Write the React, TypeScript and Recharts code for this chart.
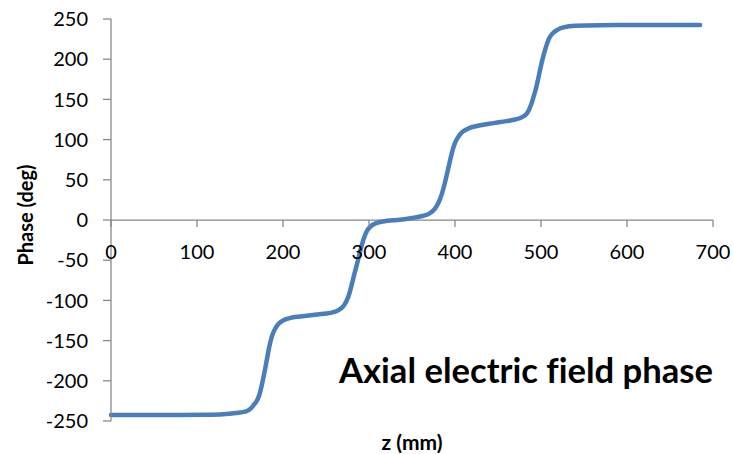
import React from 'react';
import { LineChart, Line, XAxis, YAxis, ReferenceLine } from 'recharts';

// Axial position along the structure (mm) and field phase (deg).
const Z_MM = [
  0, 40, 80, 110, 130, 145, 157, 162, 166, 169, 172, 175, 178, 181, 184, 187, 190, 194,
  200, 208, 220, 240, 255, 262, 267, 271, 274, 277, 280, 283, 286, 289, 292, 295, 298,
  302, 306, 313, 321, 336, 350, 362, 370, 375, 379, 383, 387, 390, 393, 396, 399, 403,
  408, 415, 428, 445, 460, 470, 478, 484, 488, 491, 494, 497, 500, 503, 506, 509, 513,
  519, 526, 540, 570, 620, 685,
];
const PHASE_DEG = [
  -242.5, -242.5, -242.5, -242.2, -241.5, -240, -238, -235, -230, -226, -219, -207, -192,
  -175, -158, -145, -137, -130, -125, -122, -120, -117.5, -115.5, -113.5, -110.5, -106,
  -100.5, -92, -80, -67, -55, -42, -30, -20, -13, -8, -5, -2.5, -1, 0.4, 2.5, 5, 8, 12, 18,
  27, 41, 54, 68, 82, 93, 102, 109, 113.5, 117.5, 120.5, 123, 125, 128, 133, 142, 152, 163,
  177, 192, 205, 216, 225, 231.5, 236.5, 239.5, 241.7, 242.3, 242.5, 242.5,
];

const X_TICKS = [0, 100, 200, 300, 400, 500, 600, 700];
const Y_TICKS = [-250, -200, -150, -100, -50, 0, 50, 100, 150, 200, 250];
const Y_MIN = -250;
const Y_MAX = 250;

const WIDTH = 734;
const HEIGHT = 454;
const MARGIN = { top: 19, right: 21, bottom: 0, left: 0 };
const X_AXIS_H = 33;
const Y_AXIS_W = 111;
const AXIS_COLOR = '#868686';
const LINE_COLOR = '#4a7ebb';
const FONT = 'Lato, "Open Sans", sans-serif';

const data = Z_MM.map((z, i) => ({ z, phase: PHASE_DEG[i] }));

// x axis crosses the y axis at phase = 0, so its ticks sit at that height
const plotH = HEIGHT - MARGIN.top - MARGIN.bottom - X_AXIS_H;
const zeroY = MARGIN.top + (plotH * (Y_MAX - 0)) / (Y_MAX - Y_MIN);

function CrossingTick(props: any) {
  const { x, payload } = props;
  return (
    <g>
      <line x1={x} x2={x} y1={zeroY} y2={zeroY + 7} stroke={AXIS_COLOR} strokeWidth={1.25} />
      <text
        x={x}
        y={zeroY + 31}
        textAnchor="middle"
        dominantBaseline="central"
        fontSize={20}
        fontFamily={FONT}
        fill="#000"
      >
        {payload.value}
      </text>
    </g>
  );
}

export default function App() {
  return (
    <div style={{ position: 'absolute', left: 0, top: 0, width: WIDTH, height: HEIGHT, background: '#fff' }}>
      <LineChart width={WIDTH} height={HEIGHT} data={data} margin={MARGIN}>
        <XAxis
          dataKey="z"
          type="number"
          domain={[0, 700]}
          ticks={X_TICKS}
          height={X_AXIS_H}
          axisLine={false}
          tickLine={false}
          tick={<CrossingTick />}
          interval={0}
          label={{
            content: ({ viewBox }: any) => (
              <text
                x={viewBox.x + viewBox.width / 2}
                y={viewBox.y + 29}
                textAnchor="middle"
                fontSize={21}
                fontWeight="bold"
                fontFamily={FONT}
                fill="#000"
              >
                z (mm)
              </text>
            ),
          }}
        />
        <YAxis
          type="number"
          domain={[Y_MIN, Y_MAX]}
          ticks={Y_TICKS}
          width={Y_AXIS_W}
          interval={0}
          axisLine={{ stroke: AXIS_COLOR, strokeWidth: 1.25 }}
          tickLine={{ stroke: AXIS_COLOR, strokeWidth: 1.25 }}
          tickSize={8}
          tickMargin={15}
          tick={{ fill: '#000', fontSize: 20, fontFamily: FONT }}
          label={{
            content: ({ viewBox }: any) => {
              const cx = viewBox.x + 25;
              const cy = viewBox.y + viewBox.height / 2 - 5;
              return (
                <text
                  x={cx}
                  y={cy}
                  transform={`rotate(-90 ${cx} ${cy})`}
                  textAnchor="middle"
                  dominantBaseline="central"
                  fontSize={20}
                  fontWeight="bold"
                  fontFamily={FONT}
                  fill="#000"
                >
                  Phase (deg)
                </text>
              );
            },
          }}
        />
        <ReferenceLine y={0} stroke={AXIS_COLOR} strokeWidth={1.25} />
        <Line
          type="monotone"
          dataKey="phase"
          stroke={LINE_COLOR}
          strokeWidth={4.5}
          strokeLinecap="round"
          dot={false}
          activeDot={false}
          isAnimationActive={false}
        />
        <text
          x={339}
          y={383}
          fontSize={34}
          fontWeight="bold"
          fontFamily={FONT}
          fill="#000"
          textLength={374}
          lengthAdjust="spacingAndGlyphs"
          style={{ fontVariantLigatures: 'none' }}
        >
          Axial electric field phase
        </text>
      </LineChart>
    </div>
  );
}
